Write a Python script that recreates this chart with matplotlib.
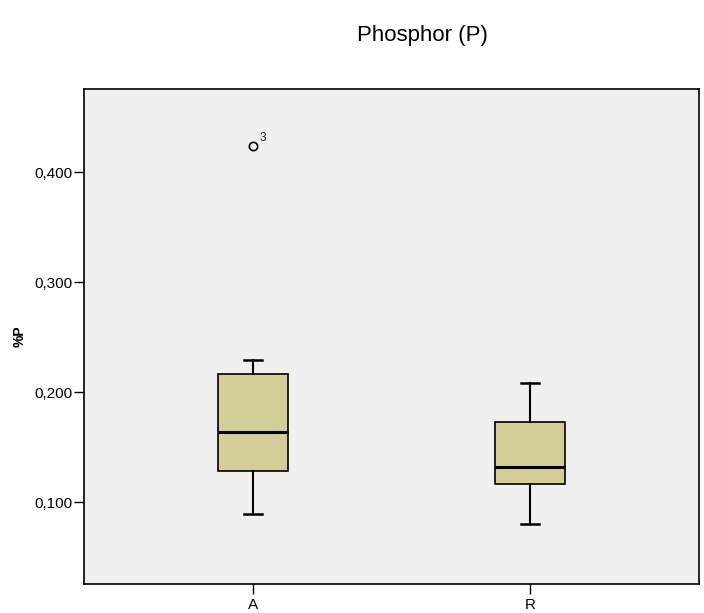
import matplotlib.pyplot as plt

plt.rcParams["font.family"] = ["Liberation Sans", "DejaVu Sans"]

# box statistics (%P)
groups = ["A", "R"]
whisker_low = [0.089, 0.080]
q1 = [0.128, 0.1165]
medians = [0.164, 0.1315]
q3 = [0.2165, 0.1725]
whisker_high = [0.229, 0.208]
outliers = [[0.424], []]
outlier_ids = [["3"], []]

stats = []
for i, g in enumerate(groups):
    stats.append({"label": g, "whislo": whisker_low[i], "q1": q1[i], "med": medians[i],
                  "q3": q3[i], "whishi": whisker_high[i], "fliers": outliers[i]})

fig = plt.figure(figsize=(7.04, 6.13), dpi=100)
ax = fig.add_axes([84 / 704, 1 - 584 / 613, 615 / 704, 495 / 613])
ax.set_facecolor("#f0f0f0")

ax.bxp(stats, positions=[1, 2], widths=0.25, patch_artist=True,
       boxprops=dict(facecolor="#d3ce97", edgecolor="black", linewidth=1.2),
       medianprops=dict(color="black", linewidth=2.2),
       whiskerprops=dict(color="black", linewidth=1.5),
       capprops=dict(color="black", linewidth=1.8),
       capwidths=0.065,
       flierprops=dict(marker="o", markersize=6, markerfacecolor="none",
                       markeredgecolor="black", markeredgewidth=1.2))

# outlier case numbers
for i, vals in enumerate(outliers):
    for v, lab in zip(vals, outlier_ids[i]):
        ax.annotate(lab, (i + 1, v), xytext=(5, 3), textcoords="offset points",
                    fontsize=8.5, color="#222222")

ax.set_xlim(0.39, 2.61)
ax.set_ylim(0.0255, 0.4755)
ax.set_yticks([0.1, 0.2, 0.3, 0.4])
ax.set_yticklabels(["0,100", "0,200", "0,300", "0,400"])
ax.set_xticks([1, 2])
ax.set_xticklabels(groups)
ax.tick_params(axis="both", labelsize=11, length=7, width=1, color="black")
ax.tick_params(axis="y", pad=1)
ax.tick_params(axis="x", pad=3)

for side in ax.spines.values():
    side.set_linewidth(1.2)
    side.set_color("black")

ax.set_ylabel("%P", fontsize=10, fontweight="bold", labelpad=6)

fig.text(0.6, 1 - 35 / 613, "Phosphor (P)", fontsize=16, ha="center", va="center")

plt.savefig("out.png", dpi=100)
